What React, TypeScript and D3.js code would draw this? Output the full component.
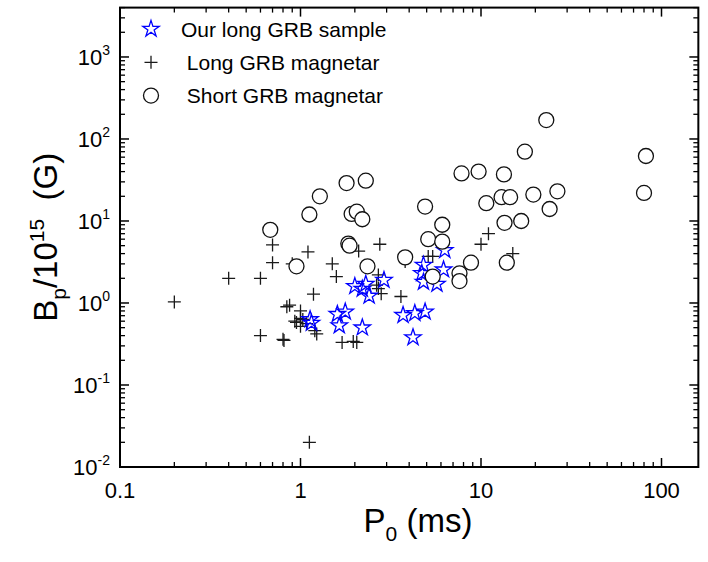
import React from "react";
import * as d3 from "d3";

// Our long GRB sample (P0 in ms, Bp in 1e15 G)
const ourP = [1.13, 1.15, 1.6, 1.77, 1.64, 2.2, 2.0, 2.3, 2.4, 2.2, 2.9, 3.7, 4.3, 4.9, 4.2, 4.8, 4.7, 4.8, 5.7, 6.2, 6.3];
const ourB = [0.63, 0.57, 0.73, 0.78, 0.53, 0.5, 1.6, 1.7, 1.22, 1.48, 1.9, 0.71, 0.75, 0.78, 0.38, 2.9, 2.3, 1.8, 1.7, 2.55, 4.4];

// Long GRB magnetar
const longP = [0.2, 0.4, 0.6, 0.7, 0.7, 1.1, 1.18, 0.6, 0.8, 0.87, 0.84, 1.0, 0.95, 1.03, 1.08, 1.0, 1.2, 1.23, 0.93, 1.0, 0.81, 0.9, 1.5, 1.58, 2.1, 2.75, 2.7, 2.64, 2.8, 3.6, 5.1, 5.4, 3.8, 1.7, 1.96, 2.05, 2.7, 1.12, 11, 10, 15];
const longB = [1.03, 2.0, 2.0, 5.1, 3.1, 4.2, 1.28, 0.4, 0.36, 0.94, 0.9, 0.8, 0.58, 0.63, 0.56, 0.52, 0.46, 0.42, 0.6, 0.65, 0.35, 3.0, 3.0, 2.1, 4.3, 5.2, 2.2, 1.65, 1.3, 1.2, 3.7, 3.7, 3.2, 0.33, 0.34, 0.33, 1.5, 0.02, 7, 5.2, 4.0];

// Short GRB magnetar
const shortP = [0.68, 0.95, 1.12, 1.28, 1.8, 2.3, 1.92, 2.05, 2.2, 1.84, 1.87, 2.35, 3.8, 4.9, 5.1, 6.1, 6.1, 5.4, 7.6, 7.6, 8.8, 7.8, 9.7, 10.7, 13.4, 13, 14.5, 13.5, 16.7, 13.9, 17.5, 23, 19.5, 26.5, 24, 82, 80];
const shortB = [7.8, 2.8, 12, 20, 29, 31, 12.2, 13, 10.5, 5.3, 5.0, 2.8, 3.6, 15, 6, 5.6, 9, 2.1, 2.3, 1.85, 3.1, 38, 40, 16.5, 37, 19.5, 19.5, 9.5, 10, 3.1, 70, 170, 21, 23, 14, 62, 22];

const xTickLabels = ["0.1", "1", "10", "100"];
const yExponents = ["-2", "-1", "0", "1", "2", "3"];
const legendLabels = ["Our long GRB sample", " Long GRB magnetar", " Short GRB magnetar"];

const W = 708;
const H = 562;
const left = 120;
const top = 7.6;
const bottom = 467;
const xMax = 160;
const font = "'Liberation Sans', Arial, sans-serif";

export default function App() {
  const x = d3.scaleLog().domain([0.1, xMax]).range([left, left + 180.5 * Math.log10(xMax / 0.1)]);
  const y = d3.scaleLog().domain([0.01, 4000]).range([bottom, top]);
  const right = x.range()[1];

  // major and minor ticks for both log axes
  const xMajor = xTickLabels.map(Number);
  const xMinor: number[] = [];
  [0.1, 1, 10, 100].forEach((d) => {
    for (let k = 2; k <= 9; k++) if (d * k <= xMax) xMinor.push(d * k);
  });
  const yMajor = yExponents.map((e) => Math.pow(10, +e));
  const yMinor: number[] = [];
  [0.01, 0.1, 1, 10, 100, 1000].forEach((d) => {
    for (let k = 2; k <= 9; k++) if (d * k <= 4000) yMinor.push(d * k);
  });

  const star = d3.symbol(d3.symbolStar, 84)();
  const plus = "M-6.5,0H6.5M0,-6.5V6.5";

  const marker = (type: string, cx: number, cy: number, key: any) => {
    if (type === "star")
      return <path key={key} d={star!} transform={`translate(${cx},${cy})`} fill="none" stroke="#0000ff" strokeWidth={1.3} />;
    if (type === "plus")
      return <path key={key} d={plus} transform={`translate(${cx},${cy})`} fill="none" stroke="#1a1a1a" strokeWidth={1.3} />;
    return <circle key={key} cx={cx} cy={cy} r={7.5} fill="#fff" stroke="#111" strokeWidth={1.3} />;
  };

  return (
    <svg width={W} height={H} style={{ position: "absolute", left: 0, top: 0 }} fontFamily={font}>
      <rect width={W} height={H} fill="#fff" />

      {/* data */}
      {longP.map((p, i) => marker("plus", x(p), y(longB[i]), "l" + i))}
      {ourP.map((p, i) => marker("star", x(p), y(ourB[i]), "o" + i))}
      {shortP.map((p, i) => marker("circle", x(p), y(shortB[i]), "s" + i))}

      {/* frame */}
      <rect x={left} y={top} width={right - left} height={bottom - top} fill="none" stroke="#000" strokeWidth={2} />

      {/* x ticks, bottom and top, pointing inward */}
      {xMajor.map((d) => (
        <g key={"xm" + d}>
          <line x1={x(d)} x2={x(d)} y1={bottom} y2={bottom - 9} stroke="#000" strokeWidth={1.5} />
          <line x1={x(d)} x2={x(d)} y1={top} y2={top + 9} stroke="#000" strokeWidth={1.5} />
        </g>
      ))}
      {xMinor.map((d) => (
        <g key={"xn" + d}>
          <line x1={x(d)} x2={x(d)} y1={bottom} y2={bottom - 5} stroke="#000" strokeWidth={1.3} />
          <line x1={x(d)} x2={x(d)} y1={top} y2={top + 5} stroke="#000" strokeWidth={1.3} />
        </g>
      ))}
      {yMajor.map((d) => (
        <g key={"ym" + d}>
          <line x1={left} x2={left + 9} y1={y(d)} y2={y(d)} stroke="#000" strokeWidth={1.5} />
          <line x1={right} x2={right - 9} y1={y(d)} y2={y(d)} stroke="#000" strokeWidth={1.5} />
        </g>
      ))}
      {yMinor.map((d) => (
        <g key={"yn" + d}>
          <line x1={left} x2={left + 5} y1={y(d)} y2={y(d)} stroke="#000" strokeWidth={1.3} />
          <line x1={right} x2={right - 5} y1={y(d)} y2={y(d)} stroke="#000" strokeWidth={1.3} />
        </g>
      ))}

      {/* tick labels */}
      {xTickLabels.map((t) => (
        <text key={"xl" + t} x={x(+t)} y={498} textAnchor="middle" fontSize={22}>
          {t}
        </text>
      ))}
      {yExponents.map((e) => (
        <text key={"yl" + e} x={110} y={y(Math.pow(10, +e)) + 8} textAnchor="end" fontSize={22}>
          10
          <tspan dy={-10} fontSize={14}>
            {e}
          </tspan>
        </text>
      ))}

      {/* axis titles */}
      <text x={418} y={532} textAnchor="middle" fontSize={33}>
        P<tspan dy={9} fontSize={21}>0</tspan>
        <tspan dy={-9}> (ms)</tspan>
      </text>
      <text transform={`translate(57,${(top + bottom) / 2}) rotate(-90)`} textAnchor="middle" fontSize={33}>
        B<tspan dy={9} fontSize={21}>p</tspan>
        <tspan dy={-9}>/10</tspan>
        <tspan dy={-13} fontSize={21}>15</tspan>
        <tspan dy={13} xmlSpace="preserve">{"  (G)"}</tspan>
      </text>

      {/* legend */}
      {["star", "plus", "circle"].map((t, i) => (
        <g key={"lg" + t}>
          {marker(t, 151, 29 + i * 33.3, "lm" + i)}
          <text x={181} y={29 + i * 33.3 + 7.5} fontSize={21} xmlSpace="preserve">
            {legendLabels[i]}
          </text>
        </g>
      ))}
    </svg>
  );
}
